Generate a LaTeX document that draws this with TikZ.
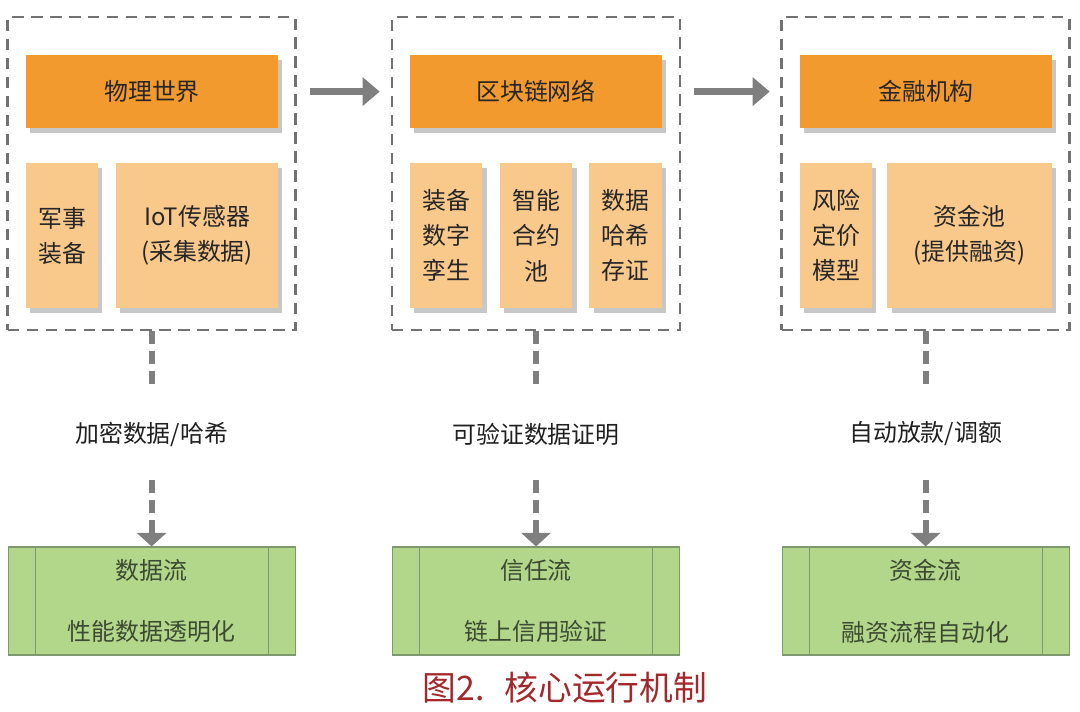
\documentclass[tikz,border=0pt]{standalone}
\usepackage{fontspec}
\setmainfont{Noto Sans CJK SC}
\usepackage{xcolor}
\usetikzlibrary{positioning,arrows.meta,shadows}
\definecolor{headorange}{HTML}{F29A2E}
\definecolor{partorange}{HTML}{F9C98C}
\definecolor{flowgreen}{HTML}{B2D78A}
\definecolor{flowedge}{HTML}{7E9970}
\definecolor{flowtext}{HTML}{3C4A32}
\definecolor{linkgray}{HTML}{7F7F7F}
\definecolor{capred}{HTML}{A3272B}
\tikzset{
  panel/.style={draw=linkgray!90!black, line width=1.9pt, dash pattern=on 8pt off 5.5pt,
                minimum width=72mm, minimum height=78.25mm},
  head/.style={fill=headorange, minimum width=63mm, minimum height=18.25mm,
               text=black!85, font=\fontsize{17pt}{20pt}\selectfont,
               drop shadow={shadow xshift=1.1mm, shadow yshift=-1.1mm, fill=black, opacity=0.22}},
  part/.style={fill=partorange, minimum height=36.25mm, align=center, inner sep=1pt,
               text=black!85, font=\fontsize{17pt}{25pt}\selectfont,
               drop shadow={shadow xshift=1.1mm, shadow yshift=-1.1mm, fill=black, opacity=0.22}},
  flowbox/.style={draw=flowedge, fill=flowgreen, line width=0.8pt, minimum width=71.75mm,
                  minimum height=27mm, align=center, text=flowtext,
                  font=\fontsize{17pt}{44pt}\selectfont,
                  path picture={
                    \draw[flowedge, line width=0.8pt]
                      ([xshift=6.75mm]path picture bounding box.north west) -- ([xshift=6.75mm]path picture bounding box.south west)
                      ([xshift=-6.75mm]path picture bounding box.north east) -- ([xshift=-6.75mm]path picture bounding box.south east);
                  }},
  lbl/.style={minimum height=23mm, inner sep=0pt, text=black!88, font=\fontsize{17pt}{20pt}\selectfont},
}

\begin{document}
\begin{tikzpicture}[
  link/.style={draw=linkgray, line width=4.3pt, dash pattern=on 3.2mm off 1.8mm},
  linktip/.style={-{Triangle[width=7.25mm, length=3.4mm]}},
  move/.style={draw=linkgray, line width=5pt, -{Triangle[width=7mm, length=4.3mm]},
               shorten <=8mm, shorten >=7.5mm},
]
  \useasboundingbox (0,0) rectangle (27,-17.775);

  % Panels
  \node[panel] (f1) at (3.79,-4.34)  {};
  \node[panel] (f2) at (13.40,-4.34) {};
  \node[panel] (f3) at (23.14,-4.34) {};

  % Headers
  \node[head] (h1) at (3.80,-2.29)  {物理世界};
  \node[head] (h2) at (13.40,-2.29) {区块链网络};
  \node[head] (h3) at (23.15,-2.29) {金融机构};

  % Parts of each panel
  \node[part, minimum width=18mm]   (a1) at (1.55,-5.89)  {军事\\装备};
  \node[part, minimum width=40.5mm] (a2) at (4.925,-5.89) {IoT传感器\\(采集数据)};
  \node[part, minimum width=18.2mm] (b1) at (11.15,-5.89) {装备\\数字\\孪生};
  \node[part, minimum width=18.2mm] (b2) at (13.40,-5.89) {智能\\合约\\池};
  \node[part, minimum width=18.2mm] (b3) at (15.64,-5.89) {数据\\哈希\\存证};
  \node[part, minimum width=18mm]   (c1) at (20.90,-5.89) {风险\\定价\\模型};
  \node[part, minimum width=41.2mm] (c2) at (24.24,-5.89) {资金池\\(提供融资)};

  % Flow between panels
  \draw[move] (h1.east) -- (h2.west);
  \draw[move] (h2.east) -- (h3.west);

  % Labels on the way down
  \node[lbl] (l1) at (3.79,-10.85)  {加密数据/哈希};
  \node[lbl] (l2) at (13.40,-10.85) {可验证数据证明};
  \node[lbl] (l3) at (23.14,-10.85) {自动放款/调额};

  % Flows
  \node[flowbox] (g1) at (3.79,-15.025)  {数据流\\性能数据透明化};
  \node[flowbox] (g2) at (13.40,-15.025) {信任流\\链上信用验证};
  \node[flowbox] (g3) at (23.14,-15.025) {资金流\\融资流程自动化};

  \draw[link] (f1.south) -- (l1.north);
  \draw[link] (f2.south) -- (l2.north);
  \draw[link] (f3.south) -- (l3.north);
  \draw[link, linktip] (l1.south) -- (g1.north);
  \draw[link, linktip] (l2.south) -- (g2.north);
  \draw[link, linktip] (l3.south) -- (g3.north);

  % Caption
  \node[text=capred, font=\fontsize{24pt}{26pt}\selectfont] (cap) at (14.125,-17.2) {图2.\hspace{5mm}核心运行机制};

\end{tikzpicture}
\end{document}
